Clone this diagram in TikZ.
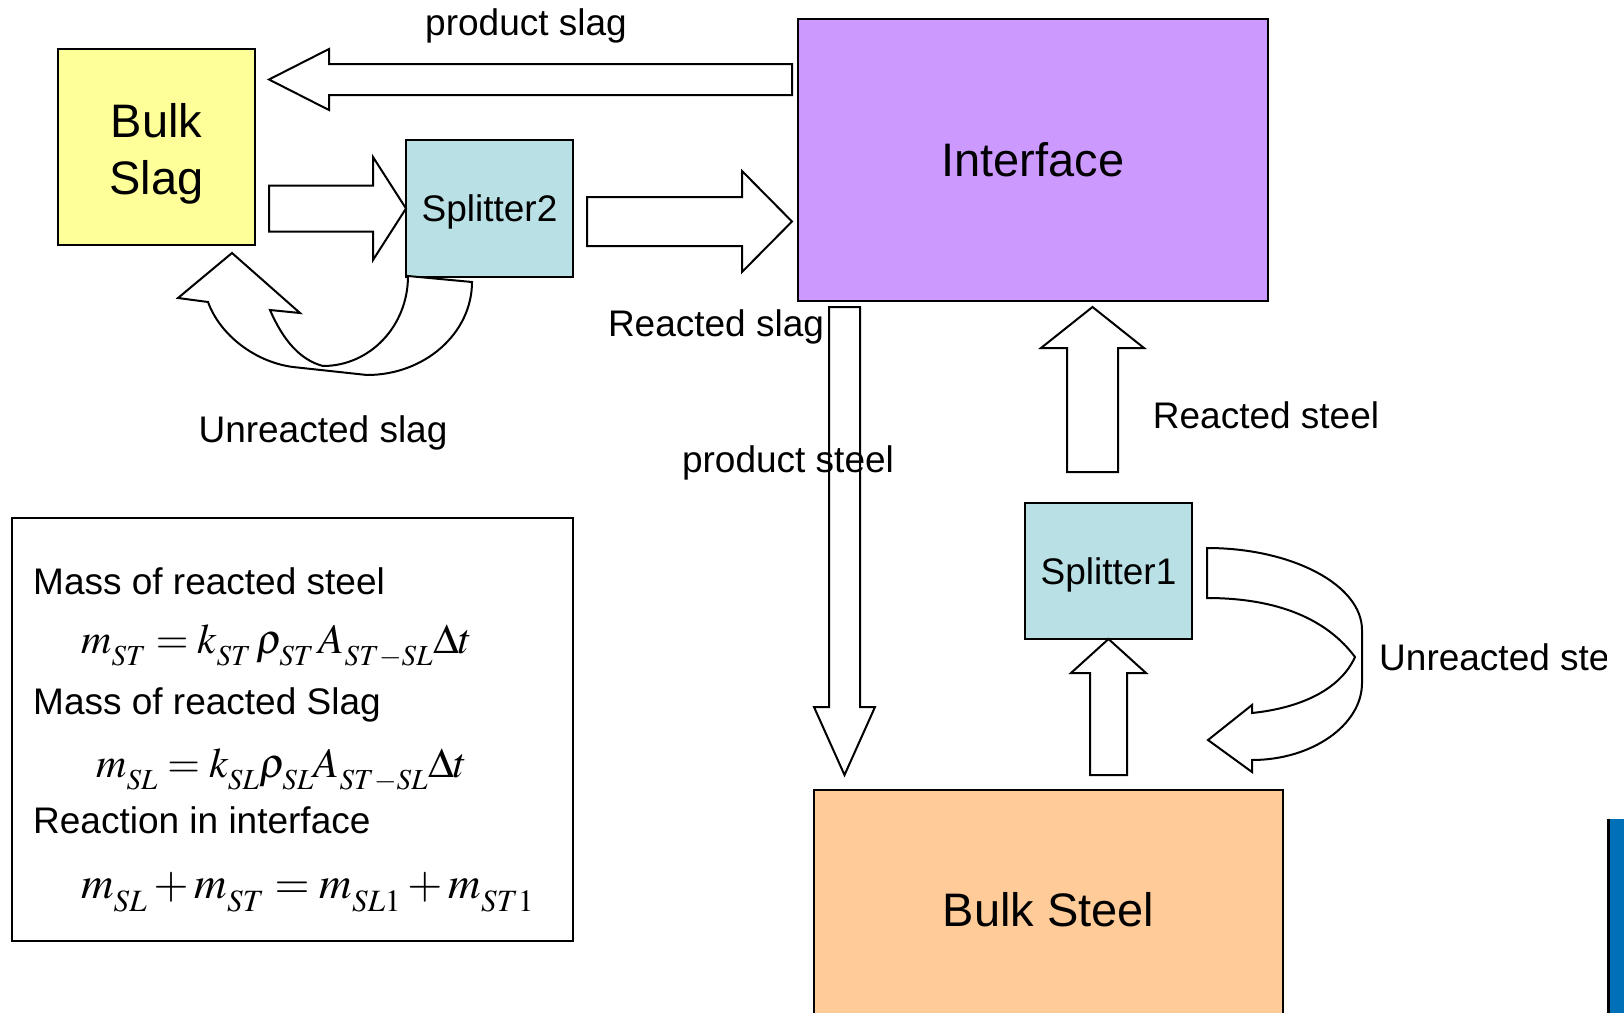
\documentclass[tikz,border=0pt]{standalone}
\usepackage{mathptmx}
\usepackage{fontspec}
\setmainfont{Liberation Sans}
\usetikzlibrary{calc,positioning}
\DeclareMathSizes{42}{42}{29}{21}
\DeclareMathSizes{45}{45}{31}{23}
% lower the subscripts a little, as the equation editor does
\newcommand{\lowsub}[1]{\fontdimen16\textfont2=#1\fontdimen17\textfont2=#1}

\definecolor{slagyellow}{RGB}{255,255,153}
\definecolor{splitcyan}{RGB}{185,224,228}
\definecolor{ifacepurple}{RGB}{204,153,255}
\definecolor{steelorange}{RGB}{255,204,153}
\definecolor{barblue}{RGB}{0,112,184}

% block arrow: start, tip, shaft half width, head half width, head length
\newcommand{\blkarrow}[5]{%
  \coordinate (ba-h) at ($(#2)!#5!(#1)$);
  \draw[blockarrow] ($(#1)!#3!90:(#2)$) -- ($(ba-h)!#3!90:(#2)$) -- ($(ba-h)!#4!90:(#2)$) -- (#2)
    -- ($(ba-h)!#4!-90:(#2)$) -- ($(ba-h)!#3!-90:(#2)$) -- ($(#1)!#3!-90:(#2)$) -- cycle;}

\begin{document}
\begin{tikzpicture}[
  x=1pt, y=-1pt,
  box/.style={draw, line width=2pt, inner sep=0pt, outer sep=0pt},
  big/.style={font=\fontsize{47}{57}\selectfont, align=center},
  mid/.style={font=\fontsize{37}{44}\selectfont, text depth=0pt},
  lbl/.style={font=\fontsize{37}{44}\selectfont, inner sep=0pt},
  eqn/.style={font=\fontsize{42}{50}\selectfont, inner sep=0pt, anchor=base west},
  blockarrow/.style={draw, fill=white, line width=2pt, line join=miter}
]
\useasboundingbox (0,0) rectangle (1624,1012);
\clip (0,0) rectangle (1624,1012);

% boxes
\node[box, fill=slagyellow, minimum width=197pt, minimum height=196pt,
  label={[big, yshift=-7pt]center:{Bulk\\Slag}}] (bulkslag) at (156.5,147) {};
\node[box, mid, fill=splitcyan, minimum width=167pt, minimum height=137pt] (splitter2) at (489.5,208.5) {Splitter2};
\node[box, big, fill=ifacepurple, minimum width=470pt, minimum height=282pt] (interface) at (1033,160) {Interface};
\node[box, big, fill=steelorange, minimum width=469pt, minimum height=240pt] (bulksteel) at (1048.5,910) {Bulk Steel};
\node[box, mid, fill=splitcyan, minimum width=167pt, minimum height=136pt] (splitter1) at (1108.5,571) {Splitter1};
\node[box, minimum width=561pt, minimum height=423pt] (eqbox) at (292.5,729.5) {};

% straight block arrows
\coordinate (ps-a) at ($(interface.north west)+(-6,60.5)$);
\coordinate (ps-b) at ($(bulkslag.north east)+(14,30.5)$);
\blkarrow{ps-a}{ps-b}{15.5pt}{30.5pt}{60pt}
\coordinate (bs-a) at ($(bulkslag.east |- splitter2.west)+(14,0)$);
\blkarrow{bs-a}{splitter2.west}{23pt}{51.5pt}{33pt}
\coordinate (si-a) at ($(splitter2.east)+(14,13)$);
\coordinate (si-b) at ($(interface.west |- si-a)+(-6,0)$);
\blkarrow{si-a}{si-b}{24.5pt}{50.5pt}{50pt}
\coordinate (pst-a) at ($(interface.south west)+(46.5,6)$);
\coordinate (pst-b) at ($(pst-a |- bulksteel.north)+(0,-15)$);
\blkarrow{pst-a}{pst-b}{15.5pt}{30.5pt}{68pt}
\coordinate (rs-a) at ($(splitter1.north)+(-16,-31)$);
\coordinate (rs-b) at ($(rs-a |- interface.south)+(0,6)$);
\blkarrow{rs-a}{rs-b}{25.5pt}{51.5pt}{41pt}
\coordinate (bst-a) at ($(splitter1.south |- bulksteel.north)+(0,-15)$);
\blkarrow{bst-a}{splitter1.south}{18.5pt}{37.5pt}{34pt}

% curved block arrows
\draw[blockarrow] (408,276) -- (472,282) .. controls (472,333) and (425,375) .. (367,375)
  -- (293,367) .. controls (255,362) and (220,335) .. (208,302) -- (178,298) -- (232,253)
  -- (300,313) -- (270,310) .. controls (283,340) and (300,360) .. (323,366)
  .. controls (370,366) and (408,326) .. (408,276) -- cycle;
\draw[blockarrow] (1207,548) .. controls (1292,548) and (1362,585) .. (1362,630) -- (1362,683)
  .. controls (1362,725) and (1312,760) .. (1252,760) -- (1252,772) -- (1208,740)
  -- (1252,705) -- (1252,713) .. controls (1300,708) and (1340,690) .. (1355,657)
  .. controls (1320,610) and (1260,598) .. (1207,598) -- cycle;

% labels
\node[lbl] (lprodslag) at (526,26) {product slag};
\node[lbl] (lreactslag) at (716,327) {Reacted slag};
\node[lbl] (lunslag) at (323,433) {Unreacted slag};
\node[lbl] (lprodsteel) at (788,463) {product steel};
\node[lbl] (lreactsteel) at (1266,415) {Reacted steel};
\begin{scope}
  \clip (0,0) rectangle (1606,1012);
  \node[lbl, anchor=west] (lunsteel) at (1379,657) {Unreacted steel};
\end{scope}

% equations
\node[lbl, anchor=base west] (t1) at (33,594) {Mass of reacted steel};
\node[eqn] (e1) at (81,653) {$\lowsub{12pt}m_{ST} = k_{ST}\,\rho_{ST}\,A_{ST-SL}\Delta t$};
\node[lbl, anchor=base west] (t2) at (33,714) {Mass of reacted Slag};
\node[eqn] (e2) at (96,777) {$\lowsub{12pt}m_{SL} = k_{SL}\rho_{SL}A_{ST-SL}\Delta t$};
\node[lbl, anchor=base west] (t3) at (33,833) {Reaction in interface};
\node[eqn, font=\fontsize{45}{54}\selectfont] (e3) at (81,898) {$\lowsub{13pt}m_{SL} + m_{ST} = m_{SL1} + m_{ST1}$};

% edge bar
\fill[barblue] (1608,819) rectangle (1640,1030);
\draw[line width=3pt] (1608.5,819) -- (1608.5,1030);
\end{tikzpicture}
\end{document}
